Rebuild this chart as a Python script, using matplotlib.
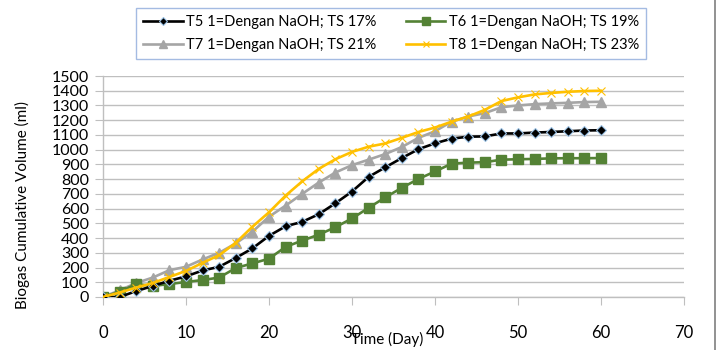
import matplotlib
matplotlib.use("Agg")
import matplotlib.pyplot as plt
from matplotlib.lines import Line2D

plt.rcParams['font.family'] = ['Lato', 'DejaVu Sans']

days = list(range(0, 61, 2))
t5 = [0, 0, 40, 75, 110, 140, 180, 205, 265, 330, 415, 480, 510, 562, 636, 716,
      815, 880, 943, 1003, 1043, 1075, 1088, 1090, 1110, 1110, 1116, 1120, 1125, 1130, 1132]
t6 = [0, 35, 88, 75, 88, 102, 115, 132, 197, 228, 260, 340, 383, 423, 474, 533,
      605, 676, 741, 801, 852, 905, 912, 915, 932, 935, 937, 941, 942, 942, 943]
t7 = [0, 45, 95, 132, 182, 205, 255, 300, 364, 443, 545, 620, 700, 777, 845, 895,
      932, 970, 1018, 1080, 1125, 1190, 1225, 1248, 1288, 1300, 1309, 1314, 1318, 1323, 1325]
t8 = [0, 30, 64, 95, 136, 177, 232, 284, 368, 477, 575, 688, 785, 870, 935, 985,
      1020, 1042, 1080, 1120, 1150, 1190, 1225, 1270, 1330, 1355, 1375, 1385, 1393, 1398, 1400]
labels = ["T5 1=Dengan NaOH; TS 17%", "T6 1=Dengan NaOH; TS 19%",
          "T7 1=Dengan NaOH; TS 21%", "T8 1=Dengan NaOH; TS 23%"]
xticks = [0, 10, 20, 30, 40, 50, 60, 70]
yticks = list(range(0, 1501, 100))

W, H = 717, 350
fig = plt.figure(figsize=(W / 100, H / 100), dpi=100)
ax = fig.add_axes([103 / W, 1 - 297 / H, (684 - 103) / W, (297 - 76) / H])

h5, = ax.plot(days, t5, color='black', lw=1.9, marker='D', ms=5.5, mfc='black',
              mec='#9dc3e6', mew=0.8, label=labels[0], zorder=5)
h6, = ax.plot(days, t6, color='#548235', lw=1.9, marker='s', ms=7, mfc='#548235',
              mec='#548235', label=labels[1], zorder=4)
h7, = ax.plot(days, t7, color='#a5a5a5', lw=1.9, marker='^', ms=7.5, mfc='#a5a5a5',
              mec='#a5a5a5', label=labels[2], zorder=3)
h8, = ax.plot(days, t8, color='#ffc000', lw=1.9, marker='x', ms=6, mec='#ffc000',
              mew=0.8, label=labels[3], zorder=6)

ax.set_xlim(0, 70)
ax.set_ylim(0, 1500)
ax.set_xticks(xticks)
ax.set_yticks(yticks)
ax.yaxis.grid(True, color='#bfbfbf', lw=1)
ax.set_axisbelow(True)
for s in ['top', 'right']:
    ax.spines[s].set_visible(False)
for s in ['left', 'bottom']:
    ax.spines[s].set_color('#bfbfbf')
    ax.spines[s].set_linewidth(1)
ax.tick_params(axis='x', direction='out', length=6, color='#bfbfbf', pad=14,
               labelsize=12, labelcolor='black')
ax.tick_params(axis='y', direction='out', length=6, color='#bfbfbf', pad=4,
               labelsize=11.5, labelcolor='black')

fig.text(387 / W, 1 - 339 / H, "Time (Day)", ha='center', va='center', fontsize=11)
fig.text(22 / W, 1 - 205 / H, "Biogas Cumulative Volume (ml)", ha='center',
         va='center', rotation=90, fontsize=11)

leg = fig.legend([h5, h7, h6, h8], [labels[0], labels[2], labels[1], labels[3]],
                 loc='upper left', bbox_to_anchor=(136 / W, 1 - 8 / H), ncol=2,
                 borderaxespad=0, fontsize=10.5, frameon=True, fancybox=False,
                 borderpad=0.5, columnspacing=2.0, handlelength=2.7,
                 handletextpad=0.25, labelspacing=0.6, markerscale=0.75)
leg.get_frame().set_edgecolor('#8eaadb')
leg.get_frame().set_linewidth(1)

fig.add_artist(Line2D([715 / W, 715 / W], [0, 1], color='#7f7f7f', lw=1.2,
                      transform=fig.transFigure))

fig.savefig("out.png", dpi=100)
